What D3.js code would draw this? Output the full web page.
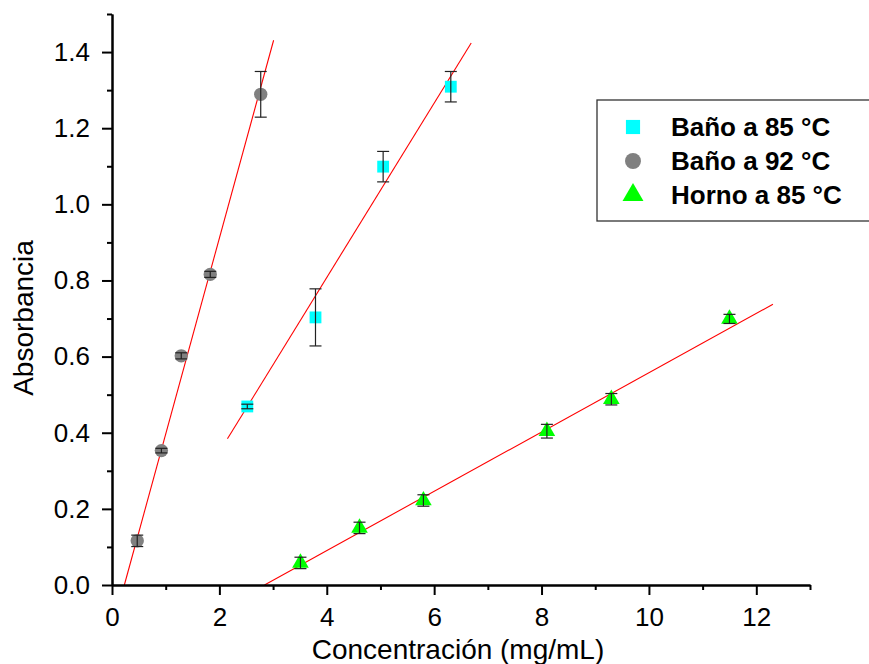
<!DOCTYPE html>
<html>
<head>
<meta charset="utf-8">
<script src="https://cdn.jsdelivr.net/npm/d3@7"></script>
<style>
  body { margin: 0; background: #fff; }
  svg { display: block; font-family: "Liberation Sans", Arial, sans-serif; }
</style>
</head>
<body>
<div class="graph-container"></div>
<script>
const svgWidth = 869;
const svgHeight = 664;
const margin = { top: 14, right: 59, bottom: 79, left: 112 };

// Baño a 85 °C
const bano85X = [2.52, 3.79, 5.05, 6.31];
const bano85Y = [0.469, 0.703, 1.099, 1.309];
const bano85Err = [0.006, 0.075, 0.04, 0.04];

// Baño a 92 °C
const bano92X = [0.47, 0.92, 1.29, 1.83, 2.77];
const bano92Y = [0.116, 0.353, 0.602, 0.816, 1.289];
const bano92Err = [0.015, 0.006, 0.008, 0.008, 0.06];

// Horno a 85 °C
const hornoX = [3.51, 4.61, 5.80, 8.10, 9.30, 11.50];
const hornoY = [0.058, 0.150, 0.222, 0.404, 0.488, 0.699];
const hornoErr = [0.015, 0.015, 0.015, 0.018, 0.015, 0.012];

// linear fit lines, end points
const fitBano85 = [[2.15, 0.384], [6.69, 1.424]];
const fitBano92 = [[0.23, 0.0], [3.01, 1.431]];
const fitHorno = [[2.84, 0.0], [12.31, 0.7375]];

const xTicks = [0, 2, 4, 6, 8, 10, 12];
const xMinorTicks = [1, 3, 5, 7, 9, 11, 13];
const yTicks = [0, 0.2, 0.4, 0.6, 0.8, 1.0, 1.2, 1.4];
const yMinorTicks = [0.1, 0.3, 0.5, 0.7, 0.9, 1.1, 1.3, 1.5];

const legendLabels = ["Baño a 85 °C", "Baño a 92 °C", "Horno a 85 °C"];

const xScale = d3.scaleLinear()
    .domain([0, 13])
    .range([margin.left, svgWidth - margin.right]);

const yScale = d3.scaleLinear()
    .domain([0, 1.5])
    .range([svgHeight - margin.bottom, margin.top]);

const svg = d3.select(".graph-container")
    .append("svg")
    .attr("width", svgWidth)
    .attr("height", svgHeight);

const series = [
    { xs: bano85X, ys: bano85Y, err: bano85Err, fit: fitBano85, shape: d3.symbolSquare, size: 140, color: "#00ffff" },
    { xs: bano92X, ys: bano92Y, err: bano92Err, fit: fitBano92, shape: d3.symbolCircle, size: 140, color: "#808080" },
    { xs: hornoX, ys: hornoY, err: hornoErr, fit: fitHorno, shape: d3.symbolTriangle, size: 120, color: "#00ff00" }
];

// fit lines
series.forEach(s => {
    svg.append("line")
        .attr("x1", xScale(s.fit[0][0]))
        .attr("y1", yScale(s.fit[0][1]))
        .attr("x2", xScale(s.fit[1][0]))
        .attr("y2", yScale(s.fit[1][1]))
        .attr("stroke", "#ff0000")
        .attr("stroke-width", 1.1);
});

// markers, then error bars on top
series.forEach(s => {
    const pts = s.xs.map((x, i) => ({ x: x, y: s.ys[i], e: s.err[i] }));
    const g = svg.append("g");

    g.selectAll("path.mark")
        .data(pts)
        .enter()
        .append("path")
        .attr("class", "mark")
        .attr("d", d3.symbol().type(s.shape).size(s.size))
        .attr("transform", d => `translate(${xScale(d.x)},${yScale(d.y)})`)
        .attr("fill", s.color);

    const eb = g.selectAll("g.err")
        .data(pts)
        .enter()
        .append("g")
        .attr("class", "err")
        .attr("stroke", "#222")
        .attr("stroke-width", 1.2);
    eb.append("line")
        .attr("x1", d => xScale(d.x)).attr("x2", d => xScale(d.x))
        .attr("y1", d => yScale(d.y + d.e)).attr("y2", d => yScale(d.y - d.e));
    eb.append("line")
        .attr("x1", d => xScale(d.x) - 6).attr("x2", d => xScale(d.x) + 6)
        .attr("y1", d => yScale(d.y + d.e)).attr("y2", d => yScale(d.y + d.e));
    eb.append("line")
        .attr("x1", d => xScale(d.x) - 6).attr("x2", d => xScale(d.x) + 6)
        .attr("y1", d => yScale(d.y - d.e)).attr("y2", d => yScale(d.y - d.e));
});

// axes
const xAxis = d3.axisBottom(xScale)
    .tickValues(xTicks)
    .tickSize(10)
    .tickSizeOuter(0)
    .tickPadding(13)
    .tickFormat(d3.format("d"));
const xMinor = d3.axisBottom(xScale)
    .tickValues(xMinorTicks)
    .tickSize(5)
    .tickSizeOuter(0)
    .tickFormat("");
const yAxis = d3.axisLeft(yScale)
    .tickValues(yTicks)
    .tickSize(10)
    .tickSizeOuter(0)
    .tickPadding(12)
    .tickFormat(d3.format(".1f"));
const yMinor = d3.axisLeft(yScale)
    .tickValues(yMinorTicks)
    .tickSize(5)
    .tickSizeOuter(0)
    .tickFormat("");

const axisBottomY = svgHeight - margin.bottom;

[xMinor, xAxis].forEach(ax => {
    svg.append("g")
        .attr("class", "x-axis")
        .attr("transform", `translate(0,${axisBottomY})`)
        .call(ax);
});
[yMinor, yAxis].forEach(ax => {
    svg.append("g")
        .attr("class", "y-axis")
        .attr("transform", `translate(${margin.left},0)`)
        .call(ax);
});

svg.selectAll(".x-axis path, .y-axis path")
    .attr("stroke", "#000")
    .attr("stroke-width", 2);
svg.selectAll(".x-axis line, .y-axis line")
    .attr("stroke", "#000")
    .attr("stroke-width", 2);
svg.selectAll(".x-axis text, .y-axis text")
    .attr("fill", "#000")
    .style("font-family", "'Liberation Sans', Arial, sans-serif")
    .style("font-size", "26px");

// axis titles
svg.append("text")
    .attr("x", 458)
    .attr("y", 659)
    .attr("text-anchor", "middle")
    .style("font-size", "28px")
    .text("Concentración (mg/mL)");

svg.append("text")
    .attr("transform", "translate(33,318) rotate(-90)")
    .attr("text-anchor", "middle")
    .style("font-size", "28px")
    .text("Absorbancia");

// legend
const legend = svg.append("g");
legend.append("rect")
    .attr("x", 597)
    .attr("y", 100)
    .attr("width", 290)
    .attr("height", 121)
    .attr("fill", "#fff")
    .attr("stroke", "#333")
    .attr("stroke-width", 1.3);

series.forEach((s, i) => {
    const cy = 127 + i * 34;
    legend.append("path")
        .attr("d", d3.symbol().type(s.shape).size(s.shape === d3.symbolTriangle ? 190 : 200))
        .attr("transform", `translate(633,${cy})`)
        .attr("fill", s.color);
    legend.append("text")
        .attr("x", 671)
        .attr("y", cy + 8.5)
        .style("font-size", "26px")
        .style("font-weight", "bold")
        .text(legendLabels[i]);
});
</script>
</body>
</html>
